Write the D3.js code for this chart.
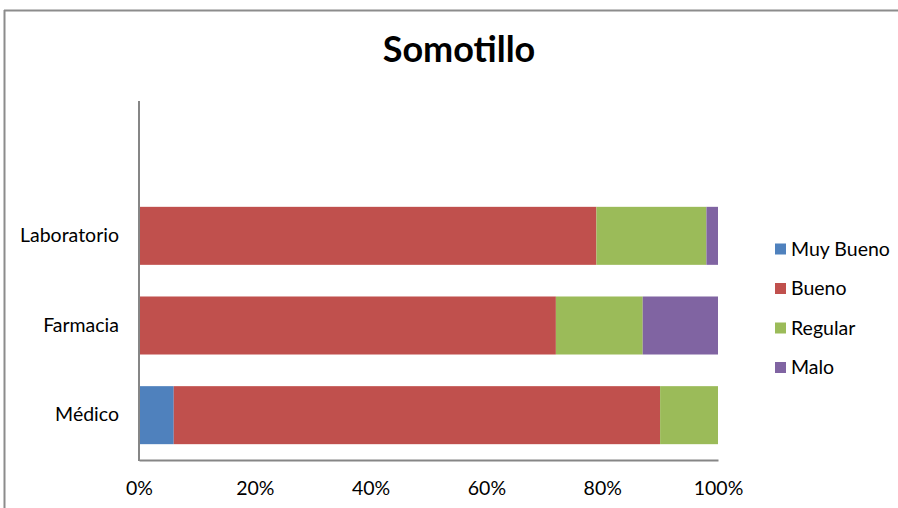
<!DOCTYPE html>
<html>
<head>
<meta charset="utf-8">
<script src="https://cdn.jsdelivr.net/npm/d3@7"></script>
<style>
  html, body { margin: 0; padding: 0; background: #fff; }
  svg { display: block; font-family: Lato, "Open Sans", sans-serif; }
</style>
</head>
<body>
<svg id="chart" width="898" height="508"></svg>
<script>
const title = "Somotillo";
const categories = ["Laboratorio", "Farmacia", "Médico"];
const seriesNames = ["Muy Bueno", "Bueno", "Regular", "Malo"];
const muyBueno = [0, 0, 6];
const bueno = [79, 72, 84];
const regular = [19, 15, 10];
const malo = [2, 13, 0];
const colors = ["#4F81BD", "#C0504D", "#9BBB59", "#8064A2"];
const xTicks = [0, 20, 40, 60, 80, 100];

const rows = categories.map((c, i) => ({
  cat: c,
  "Muy Bueno": muyBueno[i],
  "Bueno": bueno[i],
  "Regular": regular[i],
  "Malo": malo[i]
}));

const svg = d3.select("#chart");

// outer frame
svg.append("line").attr("x1", 4).attr("x2", 898).attr("y1", 10.5).attr("y2", 10.5)
  .attr("stroke", "#8c8c8c").attr("stroke-width", 2);
svg.append("line").attr("x1", 4.5).attr("x2", 4.5).attr("y1", 10).attr("y2", 508)
  .attr("stroke", "#8c8c8c").attr("stroke-width", 2);

const x = d3.scaleLinear().domain([0, 100]).range([139, 718]);
const y = d3.scaleBand().domain(categories).range([191, 460])
  .paddingInner(0.353).paddingOuter(0.1765);

const stack = d3.stack().keys(seriesNames);
const stacked = stack(rows);

svg.append("g").selectAll("g")
  .data(stacked)
  .join("g")
  .attr("fill", (d, i) => colors[i])
  .selectAll("rect")
  .data(d => d)
  .join("rect")
  .attr("x", d => x(d[0]))
  .attr("y", d => y(d.data.cat))
  .attr("width", d => x(d[1]) - x(d[0]))
  .attr("height", y.bandwidth());

// x axis
const xAxis = d3.axisBottom(x).tickValues(xTicks).tickSize(0).tickPadding(21)
  .tickFormat(d => d + "%");
const gx = svg.append("g").attr("transform", "translate(0,460)").call(xAxis);
gx.select(".domain").attr("stroke", "#868686").attr("stroke-width", 2);
gx.selectAll("text").attr("font-size", 19.5).attr("fill", "#000")
  .attr("font-family", "Lato, sans-serif");

// y axis
const yAxis = d3.axisLeft(y).tickSize(0).tickPadding(20);
const gy = svg.append("g").attr("transform", "translate(139,0)").call(yAxis);
gy.select(".domain").remove();
gy.selectAll("text").attr("font-size", 19.5).attr("fill", "#000")
  .attr("font-family", "Lato, sans-serif");
svg.append("line").attr("x1", 139).attr("x2", 139).attr("y1", 101).attr("y2", 461)
  .attr("stroke", "#868686").attr("stroke-width", 2);

// title
svg.append("text").attr("x", 459).attr("y", 62).attr("text-anchor", "middle")
  .attr("font-size", 36).attr("font-weight", "bold").attr("fill", "#000")
  .text(title);

// legend
const legend = svg.append("g").selectAll("g").data(seriesNames).join("g")
  .attr("transform", (d, i) => `translate(775,${249 + i * 39.5})`);
legend.append("rect").attr("x", 0).attr("y", -5.5).attr("width", 11).attr("height", 11)
  .attr("fill", (d, i) => colors[i]);
legend.append("text").attr("x", 16).attr("y", 0).attr("dy", "0.35em")
  .attr("font-size", 19.5).attr("fill", "#000").text(d => d);
</script>
</body>
</html>
